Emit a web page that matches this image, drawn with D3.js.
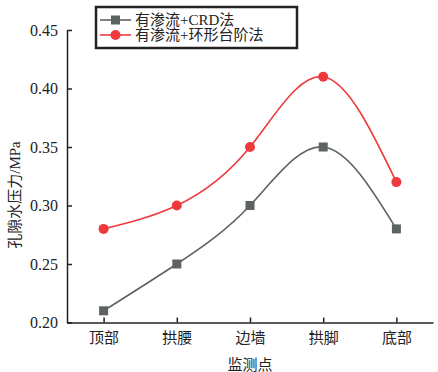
<!DOCTYPE html>
<html lang="zh">
<head>
  <meta charset="utf-8">
  <title>孔隙水压力</title>
  <script src="https://cdn.jsdelivr.net/npm/d3@7"></script>
  <style>
    body { margin: 0; background: #fff; }
    svg { display: block; }
    text { font-family: "Liberation Serif", "Times New Roman", "Noto Sans CJK SC", serif; fill: #222; }
  </style>
</head>
<body>
  <script>
    // Data
    var categories = ["顶部", "拱腰", "边墙", "拱脚", "底部"];
    var seriesNames = ["有渗流+CRD法", "有渗流+环形台阶法"];
    var crdValues = [0.21, 0.25, 0.30, 0.35, 0.28];
    var ringValues = [0.28, 0.30, 0.35, 0.41, 0.32];
    var yTicks = [0.20, 0.25, 0.30, 0.35, 0.40, 0.45];

    var width = 438, height = 372;
    var margin = {left: 67, right: 5, top: 30, bottom: 49.5};

    var svg = d3.select("body").append("svg")
      .attr("width", width)
      .attr("height", height);

    var x = d3.scalePoint()
      .domain(categories)
      .range([margin.left, width - margin.right])
      .padding(0.5);

    var y = d3.scaleLinear()
      .domain([0.20, 0.45])
      .range([height - margin.bottom, margin.top]);

    // Axes (ticks point inward)
    var xAxis = svg.append("g")
      .attr("transform", "translate(0," + (height - margin.bottom) + ")")
      .call(d3.axisBottom(x).tickSizeInner(-5).tickSizeOuter(0).tickPadding(10));
    xAxis.selectAll("text").style("font-size", "15px");

    var yAxis = svg.append("g")
      .attr("transform", "translate(" + margin.left + ",0)")
      .call(d3.axisLeft(y).tickValues(yTicks).tickFormat(d3.format(".2f"))
        .tickSizeInner(-5).tickSizeOuter(0).tickPadding(9));
    yAxis.selectAll("text").style("font-size", "16px");

    svg.selectAll(".domain, .tick line").attr("stroke", "#222").attr("stroke-width", 1.5);

    // Axis titles
    svg.append("text")
      .attr("x", (margin.left + width - margin.right) / 2)
      .attr("y", 370)
      .attr("text-anchor", "middle")
      .style("font-size", "15px")
      .text("监测点");

    svg.append("text")
      .attr("transform", "translate(20,195) rotate(-90)")
      .attr("text-anchor", "middle")
      .style("font-size", "15px")
      .text("孔隙水压力/MPa");

    var series = [
      {name: seriesNames[0], values: crdValues, color: "#5d6262", marker: "square"},
      {name: seriesNames[1], values: ringValues, color: "#ee3a3c", marker: "circle"}
    ];

    var line = d3.line()
      .x(function(d, i) { return x(categories[i]); })
      .y(function(d) { return y(d); })
      .curve(d3.curveNatural);

    function drawMarker(g, s, cx, cy) {
      if (s.marker === "square") {
        g.append("rect")
          .attr("x", cx - 4.5).attr("y", cy - 4.5)
          .attr("width", 9).attr("height", 9)
          .attr("fill", s.color);
      } else {
        g.append("circle")
          .attr("cx", cx).attr("cy", cy).attr("r", 5)
          .attr("fill", s.color);
      }
    }

    series.forEach(function(s) {
      svg.append("path")
        .datum(s.values)
        .attr("d", line)
        .attr("fill", "none")
        .attr("stroke", s.color)
        .attr("stroke-width", 1.6);
      var g = svg.append("g");
      s.values.forEach(function(v, i) {
        drawMarker(g, s, x(categories[i]), y(v));
      });
    });

    // Legend
    var legend = svg.append("g");
    legend.append("rect")
      .attr("x", 96).attr("y", 7)
      .attr("width", 201).attr("height", 41)
      .attr("fill", "#fff")
      .attr("stroke", "#222")
      .attr("stroke-width", 2.5);

    series.forEach(function(s, i) {
      var ly = 20 + i * 15;
      legend.append("line")
        .attr("x1", 100).attr("x2", 131)
        .attr("y1", ly).attr("y2", ly)
        .attr("stroke", s.color).attr("stroke-width", 1.6);
      drawMarker(legend, s, 115.5, ly);
      legend.append("text")
        .attr("x", 135).attr("y", ly)
        .attr("dy", "0.36em")
        .style("font-size", "15px")
        .text(s.name);
    });
  </script>
</body>
</html>
